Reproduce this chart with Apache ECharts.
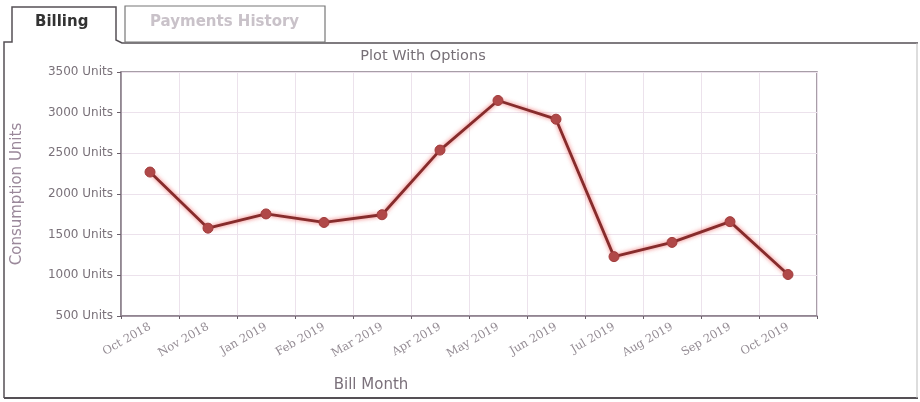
<!DOCTYPE html>
<html><head><meta charset="utf-8">
<script src="https://cdn.jsdelivr.net/npm/echarts@6/dist/echarts.min.js"></script>
<style>html,body{margin:0;padding:0;background:#fff}#c{width:920px;height:402px}</style>
</head><body><div id="c"></div>
<script>
const categories = ['Oct 2018','Nov 2018','Jan 2019','Feb 2019','Mar 2019','Apr 2019','May 2019','Jun 2019','Jul 2019','Aug 2019','Sep 2019','Oct 2019'];
const consumption = [2270, 1580, 1755, 1650, 1745, 2540, 3150, 2920, 1230, 1405, 1660, 1010];
const yMin = 500, yMax = 3500, yStep = 500;

const chart = echarts.init(document.getElementById('c'));
const borderCol = '#555055';
chart.setOption({
  animation: false,
  title: {
    text: 'Plot With Options', left: 418, top: 44, textAlign: 'center',
    textStyle: { fontFamily: 'DejaVu Sans', fontSize: 14.5, fontWeight: 'normal', color: '#777077' }
  },
  grid: { left: 121, right: 103, top: 72, bottom: 86, show: true, borderColor: '#8a7f8a', borderWidth: 1.5, backgroundColor: 'transparent' },
  xAxis: {
    type: 'category', data: categories, boundaryGap: true,
    name: 'Bill Month', nameLocation: 'middle', nameGap: 62,
    nameTextStyle: { fontFamily: 'DejaVu Sans', fontSize: 15, color: '#7a707a', padding: [0, 196, 0, 0] },
    axisLine: { lineStyle: { color: '#8a7f8a', width: 1.5 } },
    axisTick: { show: true, length: 3, lineStyle: { color: '#6a606a' } },
    axisLabel: { rotate: 30, interval: 0, margin: 10, fontFamily: 'DejaVu Serif', fontSize: 11.5, color: '#948c94' },
    splitLine: { show: true, interval: 0, lineStyle: { color: '#ece2ec', width: 1 } }
  },
  yAxis: {
    type: 'value', min: yMin, max: yMax, interval: yStep,
    name: 'Consumption Units', nameLocation: 'middle', nameGap: 96,
    nameTextStyle: { fontFamily: 'DejaVu Sans', fontSize: 15, color: '#9a889a' },
    axisLine: { show: true, lineStyle: { color: '#8a7f8a', width: 1.5 } },
    axisTick: { show: true, length: 4, lineStyle: { color: '#6a606a' } },
    axisLabel: { formatter: v => v + ' Units', fontFamily: 'DejaVu Sans', fontSize: 12, color: '#7a727a', margin: 8 },
    splitLine: { show: true, lineStyle: { color: '#ece2ec', width: 1 } }
  },
  series: [{
    type: 'line', data: consumption,
    symbol: 'circle', symbolSize: 10,
    lineStyle: { color: '#862c2c', width: 2.8, shadowColor: 'rgba(235,70,70,0.8)', shadowBlur: 4 },
    itemStyle: { color: '#b04848', borderColor: '#a03c3c', borderWidth: 1 }
  }],
  graphic: [
    { type: 'polyline', shape: { points: [[4,398],[4,42],[12,42],[12,7],[116,7],[116,40],[122,43],[918,43]] }, style: { stroke: borderCol, lineWidth: 1.5, fill: null } },
    { type: 'polyline', shape: { points: [[4,398],[918,398]] }, style: { stroke: borderCol, lineWidth: 2, fill: null } },
    { type: 'polyline', shape: { points: [[917,43],[917,398]] }, style: { stroke: '#bbb', lineWidth: 1, fill: null } },
    { type: 'rect', shape: { x: 125, y: 6, width: 200, height: 36 }, style: { stroke: '#777', lineWidth: 1.2, fill: '#fff' } },
    { type: 'text', left: 35, top: 15, style: { text: 'Billing', font: 'bold 15px "DejaVu Sans"', fill: '#333' } },
    { type: 'text', left: 150, top: 15, style: { text: 'Payments History', font: 'bold 15px "DejaVu Sans"', fill: '#c9c2c9' } }
  ]
});
</script></body></html>
